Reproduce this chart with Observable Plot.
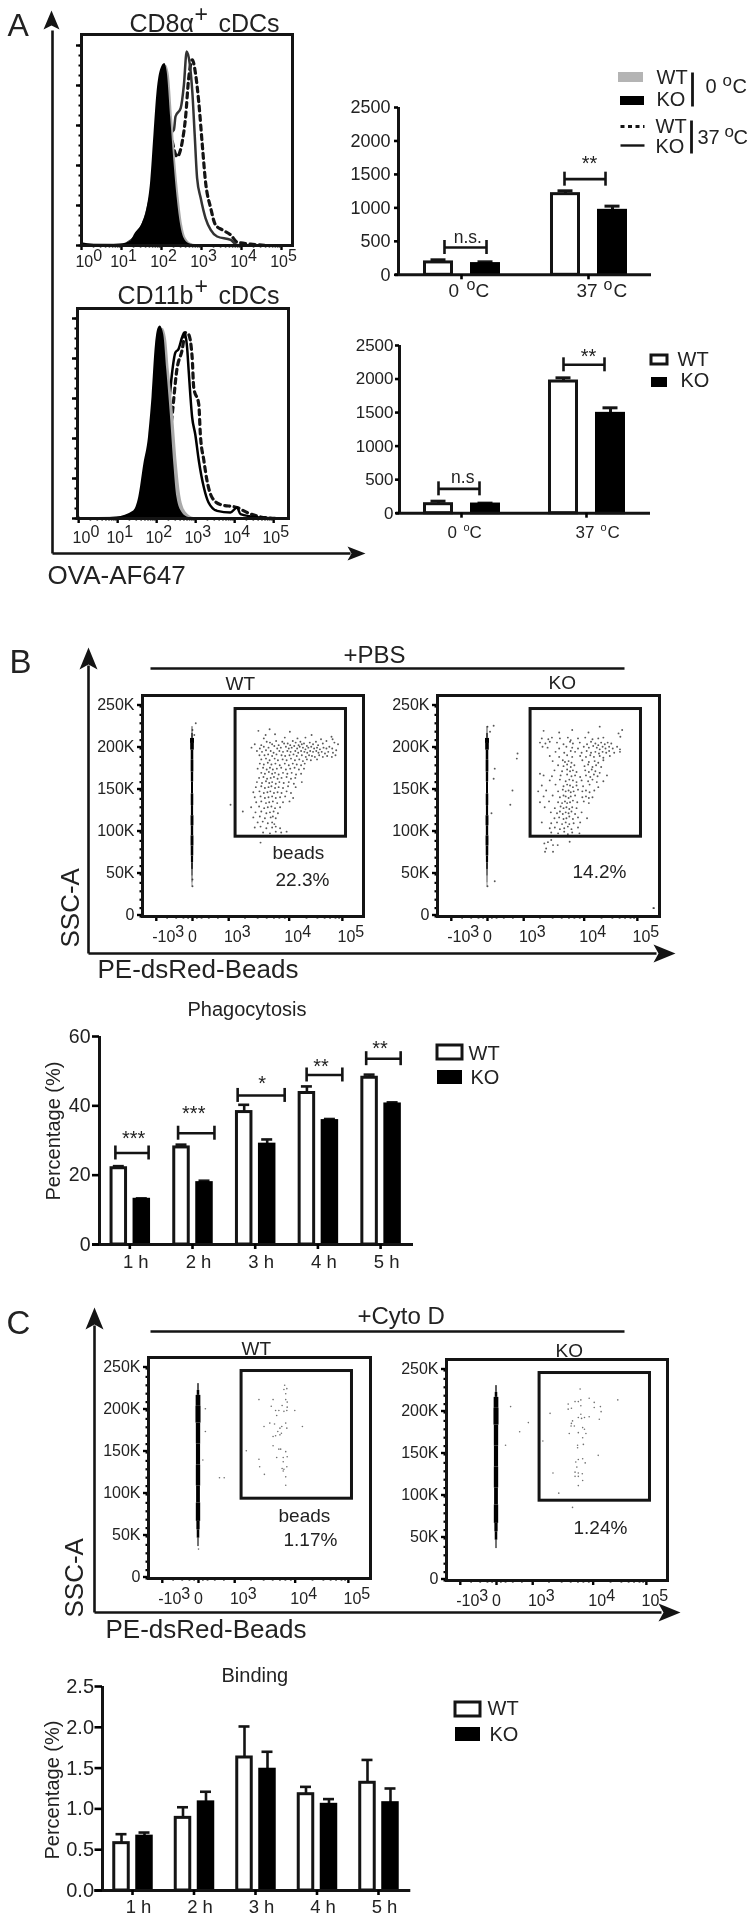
<!DOCTYPE html>
<html><head><meta charset="utf-8">
<script src="https://cdn.jsdelivr.net/npm/d3@7"></script>
<script src="https://cdn.jsdelivr.net/npm/@observablehq/plot@0.6"></script>
<style>
html,body{margin:0;padding:0;background:#fff}
#page{position:relative;width:755px;height:1920px;overflow:hidden;filter:blur(0.6px)}
#page svg{position:absolute;overflow:visible;max-width:none;background:transparent}
</style></head><body><div id="page"></div>
<script>
// ---------- Panel A histograms: [log10 fluorescence, % of max] ----------
const cd8Ko0 = [[0,5],[0.05,1.2],[0.48,0.3],[0.98,0.8],[1.23,2.3],[1.35,6.2],[1.52,11],[1.64,18.7],[1.73,32],[1.81,55],[1.89,77],[1.98,88],[2.08,91],[2.14,87],[2.23,64],[2.31,42],[2.39,24],[2.48,10],[2.56,3.7],[2.68,1],[2.89,0.2]];
const cd8Wt0 = [[0.05,1],[0.98,0.8],[1.23,2.3],[1.38,6],[1.56,11],[1.68,19],[1.77,33],[1.85,56],[1.93,78],[2.02,88],[2.12,90],[2.19,86],[2.28,63],[2.36,41],[2.44,24],[2.53,10],[2.62,3.5],[2.75,1],[2.95,0.2]];
const cd8Ko37 = [[1.14,1.2],[1.56,12],[1.89,38.7],[2.14,55],[2.31,57.8],[2.35,64.5],[2.48,68.7],[2.56,80.3],[2.63,97],[2.71,90.3],[2.77,77],[2.83,55.3],[2.89,33.7],[2.98,23.7],[3.1,13.7],[3.23,7.8],[3.39,4.5],[3.73,2.8],[3.89,0.3],[4.31,0]];
const cd8Wt37 = [[2.27,52],[2.39,44.5],[2.52,52],[2.6,63.7],[2.68,83.7],[2.77,92.8],[2.85,86],[2.93,72],[3.02,50.3],[3.1,32],[3.23,18.7],[3.35,10.3],[3.52,7.8],[3.73,5.3],[3.89,1.7],[4.23,0.7],[4.64,0]];
const cd11Ko0 = [[-0.02,7],[0.04,0.5],[0.64,0.5],[0.98,0.8],[1.41,3.8],[1.54,10.5],[1.67,27],[1.79,40.5],[1.88,60.5],[1.97,87],[2.03,94.7],[2.09,96.3],[2.18,92],[2.26,74],[2.35,52],[2.44,27],[2.52,10.5],[2.65,3],[2.82,0.5],[3.12,0]];
const cd11Wt0 = [[0.04,0.5],[0.98,0.8],[1.45,3.8],[1.6,10.5],[1.74,27],[1.86,40],[1.95,60],[2.04,86],[2.1,93],[2.16,95],[2.25,90],[2.33,73],[2.43,52],[2.53,27],[2.62,11],[2.76,3],[2.95,0.5],[3.2,0]];
const cd11Ko37 = [[2.0,22],[2.2,30],[2.31,55.5],[2.39,72],[2.48,83],[2.56,84.7],[2.65,90.5],[2.71,93],[2.78,85.5],[2.82,74],[2.91,50.5],[2.99,42],[3.08,29],[3.21,15.5],[3.33,8],[3.55,3.8],[3.89,3],[4.06,5.5],[4.15,2.2],[4.66,0.5],[5.09,0]];
const cd11Wt37 = [[2.2,25],[2.39,50.5],[2.52,74.7],[2.65,84],[2.74,93],[2.82,92],[2.91,80.5],[2.95,65.5],[3.08,57],[3.12,42],[3.21,29],[3.29,19],[3.42,10.5],[3.63,7],[4.06,5.5],[4.32,3],[4.66,0.8],[5.09,0]];
const histDecades = [0,1,2,3,4,5];

// ---------- Panel A bars ----------
const tempGroups = ["0 °C","37 °C"];
const cd8Wt = [185,1205], cd8WtTop = [224,1255], cd8KoV = [160,956], cd8KoTop = [194,1026];
const cd11Wt = [134,1963], cd11WtTop = [179,2018], cd11KoV = [129,1481], cd11KoTop = [150,1571];
const cd8Brackets = [{t:"n.s.",x1:-0.134,x2:0.197,y:408,tx:0.05,ty:553},{t:"**",x1:0.811,x2:1.134,y:1429,tx:1.008,ty:1734}];
const cd11Brackets = [{t:"n.s",x1:-0.184,x2:0.144,y:363,tx:0.01,ty:532},{t:"**",x1:0.816,x2:1.144,y:2212,tx:1.016,ty:2410}];

// ---------- Panel B / C time courses ----------
const hours = ["1 h","2 h","3 h","4 h","5 h"];
const phagoWt = [22,28,38.2,43.7,48.1], phagoWtTop = [22.6,28.8,40.3,45.6,49];
const phagoKo = [12.9,17.7,28.8,35.6,40.4], phagoKoTop = [13.3,18.4,30.3,36.2,41];
const phagoBrackets = [
 {t:"***",x1:-0.23,x2:0.30,y:26.4,tx:0.06,ty:31.9},{t:"***",x1:0.77,x2:1.35,y:32.1,tx:1.02,ty:39.1},
 {t:"*",x1:1.72,x2:2.47,y:43,tx:2.11,ty:48},{t:"**",x1:2.82,x2:3.39,y:48.9,tx:3.05,ty:52.9},
 {t:"**",x1:3.77,x2:4.32,y:53.6,tx:3.99,ty:58}];
const bindWt = [0.58,0.89,1.63,1.18,1.32], bindWtTop = [0.69,1.02,2.01,1.27,1.6];
const bindKo = [0.66,1.08,1.48,1.05,1.07], bindKoTop = [0.71,1.21,1.7,1.12,1.25];

// ---------- Flow plots: [biexponential position, SSC-A in K] ----------
const flowTicks = [-1,0,1,2.67,4.14];
const flowBase = ["-10","0","10","10","10"];
const flowExp = ["3","","3","4","5"];
const sscTicks = [0,50,100,150,200,250];
const pbsWtGate = [[2.13,223],[1.82,221],[2.69,220],[3.29,216],[3.84,214],[2.02,216],[2.28,217],[2.55,213],[1.97,212],[2.9,212],[3.55,211],[3.87,211],[3.12,213],[2.05,208],[2.14,207],[2.31,209],[2.48,208],[2.63,206],[2.77,209],[2.85,207],[2.98,208],[3.08,206],[3.24,207],[3.41,208],[3.7,209],[3.92,207],[1.72,205],[1.9,204],[2.2,205],[2.38,204],[2.53,206],[2.7,204],[2.93,204],[3.02,205],[3.16,203],[3.33,205],[3.47,204],[3.6,206],[4.02,205],[1.63,201],[1.86,200],[1.97,202],[2.1,201],[2.26,203],[2.34,200],[2.44,201],[2.58,202],[2.66,200],[2.74,201],[2.81,203],[2.89,200],[2.96,202],[3.05,201],[3.12,199],[3.2,201],[3.28,202],[3.36,200],[3.44,201],[3.52,199],[3.62,201],[3.7,200],[3.78,202],[3.86,200],[3.97,198],[1.78,197],[1.92,196],[2.03,198],[2.16,197],[2.24,195],[2.4,197],[2.5,196],[2.62,197],[2.71,196],[2.84,197],[2.92,195],[3.0,197],[3.09,196],[3.17,195],[3.25,197],[3.33,196],[3.42,197],[3.48,195],[3.57,196],[3.66,194],[3.75,196],[3.88,195],[1.85,192],[1.99,192],[2.09,193],[2.2,191],[2.32,193],[2.46,192],[2.56,191],[2.68,192],[2.79,193],[2.88,191],[3.02,192],[3.13,190],[3.22,192],[3.3,191],[3.38,190],[3.5,192],[3.6,190],[3.72,191],[3.85,190],[3.95,192],[1.9,187],[2.03,188],[2.13,186],[2.27,188],[2.36,186],[2.49,187],[2.6,186],[2.72,188],[2.83,186],[2.95,187],[3.05,185],[3.16,187],[3.27,186],[3.44,187],[1.86,182],[1.97,181],[2.08,183],[2.18,181],[2.29,182],[2.41,180],[2.55,182],[2.66,180],[2.77,182],[2.88,181],[3.0,180],[3.1,182],[1.8,176],[1.95,177],[2.05,175],[2.14,177],[2.22,175],[2.33,176],[2.45,177],[2.58,175],[2.7,176],[2.82,177],[2.94,175],[3.08,176],[1.9,171],[2.0,170],[2.11,172],[2.2,170],[2.28,171],[2.38,169],[2.5,171],[2.62,170],[2.74,171],[2.86,169],[3.0,170],[1.84,165],[1.96,166],[2.06,164],[2.16,165],[2.25,166],[2.35,164],[2.46,165],[2.6,166],[2.72,164],[2.84,165],[1.78,160],[1.92,159],[2.03,161],[2.12,159],[2.2,160],[2.3,158],[2.4,160],[2.52,159],[2.66,160],[2.8,158],[3.02,160],[1.75,154],[1.9,155],[2.0,153],[2.1,154],[2.18,155],[2.28,153],[2.38,154],[2.5,153],[2.64,155],[2.85,154],[1.68,148],[1.85,149],[1.97,147],[2.07,148],[2.15,149],[2.25,147],[2.35,148],[2.46,147],[2.6,149],[2.72,147],[1.72,142],[1.88,143],[2.0,141],[2.1,142],[2.2,143],[2.3,141],[2.42,142],[2.56,143],[2.78,141],[1.76,136],[1.9,137],[2.03,135],[2.12,136],[2.22,137],[2.34,135],[2.5,136],[2.68,137],[1.62,130],[1.84,131],[1.98,129],[2.08,130],[2.18,131],[2.28,129],[2.42,130],[1.74,124],[1.9,125],[2.04,123],[2.14,124],[2.24,125],[2.36,123],[1.68,118],[1.86,119],[2.0,117],[2.16,118],[2.22,119],[2.3,117],[1.8,112],[1.94,113],[2.08,111],[2.2,112],[2.26,110],[1.72,106],[1.88,107],[2.04,105],[2.2,106],[2.3,107],[2.42,105],[1.95,100],[2.14,99],[2.3,101],[2.45,100],[2.6,101]];
const pbsWtStray = [[1.05,133],[1.39,125],[0.09,230],[0,222],[0.05,216],[0,36],[0,44],[1.88,88]];
const pbsKoGate = [[1.55,221],[1.98,219],[2.34,222],[3.1,226],[2.79,219],[3.62,218],[3.72,222],[3.67,214],[1.5,212],[1.68,211],[1.78,213],[2.0,212],[2.22,213],[2.3,210],[2.5,212],[2.7,213],[2.9,211],[3.06,212],[3.2,213],[1.45,207],[1.6,206],[1.72,208],[1.92,207],[2.1,205],[2.28,208],[2.36,206],[2.55,207],[2.75,205],[2.86,208],[2.98,206],[3.06,204],[3.14,207],[3.24,205],[3.32,207],[3.42,206],[1.52,202],[1.66,201],[1.98,200],[2.18,202],[2.34,201],[2.5,200],[2.66,202],[2.8,201],[2.92,203],[3.02,201],[3.1,199],[3.18,202],[3.26,200],[3.36,202],[3.46,200],[3.58,202],[3.66,199],[1.88,196],[2.12,195],[2.3,197],[2.42,196],[2.6,195],[2.74,197],[2.86,195],[2.98,196],[3.08,194],[3.18,196],[3.28,195],[3.36,197],[3.5,195],[3.66,196],[1.72,191],[1.98,190],[2.2,192],[2.34,190],[2.56,191],[2.72,190],[2.84,192],[2.94,190],[3.1,191],[3.2,189],[3.38,191],[1.8,185],[2.08,186],[2.14,184],[2.24,185],[2.32,183],[2.62,186],[2.8,184],[2.96,185],[3.06,183],[3.2,186],[1.95,180],[2.1,179],[2.2,181],[2.3,178],[2.4,180],[2.68,179],[2.78,181],[2.9,178],[3.0,180],[3.14,178],[1.85,174],[2.06,173],[2.2,175],[2.28,173],[2.36,174],[2.46,172],[2.7,174],[2.8,172],[2.88,175],[2.98,173],[3.1,171],[1.45,170],[1.55,168],[1.78,167],[2.02,168],[2.2,169],[2.32,167],[2.42,168],[2.56,166],[2.72,168],[2.84,166],[2.94,169],[3.04,167],[3.3,168],[1.72,162],[2.0,163],[2.16,161],[2.26,163],[2.36,162],[2.46,160],[2.6,162],[2.78,161],[2.9,163],[3.02,160],[3.2,161],[1.5,156],[1.88,157],[2.1,155],[2.2,157],[2.28,156],[2.36,154],[2.46,156],[2.64,155],[2.82,157],[3.06,154],[1.4,149],[1.62,150],[1.95,149],[2.08,151],[2.16,149],[2.24,150],[2.3,148],[2.38,149],[2.5,151],[2.62,149],[2.72,150],[2.82,148],[2.95,150],[1.55,143],[1.8,144],[2.0,142],[2.1,144],[2.16,143],[2.24,141],[2.3,143],[2.42,144],[2.62,142],[2.72,143],[2.8,141],[2.9,142],[1.45,136],[1.7,137],[1.95,136],[2.06,135],[2.14,137],[2.2,135],[2.28,136],[2.36,138],[2.48,136],[2.66,137],[2.8,135],[1.58,130],[1.86,129],[2.02,131],[2.1,129],[2.18,130],[2.26,128],[2.34,130],[2.46,129],[1.75,124],[1.92,123],[2.0,125],[2.08,122],[2.16,124],[2.24,123],[2.32,125],[2.42,122],[2.6,124],[1.85,117],[1.98,118],[2.1,116],[2.18,117],[2.26,119],[2.36,116],[2.5,118],[2.75,117],[1.5,112],[1.76,111],[1.92,112],[2.06,110],[2.16,112],[2.26,110],[2.38,111],[2.56,112],[1.72,105],[1.86,106],[2.0,104],[2.12,105],[2.22,107],[2.32,104],[2.5,106],[1.76,100],[1.95,99],[2.12,101],[2.22,98],[2.34,100],[2.54,99]];
const pbsKoStray = [[0,226],[0.17,227],[0.07,220],[0,36],[0.2,42],[0.83,194],[0.81,188],[0.2,176],[0.17,164],[0.11,123],[0.69,150],[0.63,133],[1.57,87],[1.76,91],[1.62,81],[1.81,85],[1.59,77],[1.81,77],[2.27,89],[1.94,85],[1.67,88.5],[4.58,10],[4.6,10]];
const cytoWtGate = [[2.38,230],[2.44,226],[2.36,225],[2.41,220],[1.67,213],[2.06,213],[2.41,213],[2.45,210],[2.01,205],[2.31,206],[2.45,204],[2.13,200],[2.22,200],[2.44,200],[2.36,199],[2.66,200],[2.16,194],[1.97,185],[2.10,184],[2.41,185],[1.81,181],[2.44,179],[2.30,181],[2.87,181],[2.25,179],[2.19,175],[2.29,173],[2.13,170],[2.06,169],[2.25,171],[2.06,158],[2.22,154],[2.27,154],[2.41,151],[1.32,152],[2.45,145],[2.34,144],[2.16,144],[1.67,142],[2.34,139],[1.69,133],[2.44,133],[2.31,131],[2.36,130],[2.34,128],[1.82,124],[2.41,121],[2.41,111]];
const cytoWtStray = [[0.58,120],[0.71,120],[0.19,202],[0.19,175],[0.12,141],[0,35]];
const cytoKoGate = [[2.31,228],[2.56,217],[3.35,215],[2.33,215],[2.26,213],[2.17,213],[2.70,212],[1.98,210],[2.33,208],[2.87,207],[2.70,206],[2.07,205],[1.98,204],[2.89,201],[1.48,199],[2.33,198],[2.26,194],[2.35,193],[2.43,194],[2.56,195],[2.84,192],[2.10,190],[2.07,187],[2.15,184],[2.06,184],[2.38,182],[2.43,180],[2.26,176],[2.47,175],[2.01,175],[2.38,170],[1.28,166],[2.24,161],[2.40,162],[2.24,158],[2.81,149],[2.26,144],[2.38,145],[2.19,141],[2.45,140],[2.22,135],[2.17,129],[2.26,128],[2.37,127],[1.56,128],[2.17,124],[2.26,124],[2.38,119],[2.26,113],[1.72,104],[2.10,87]];
const cytoKoStray = [[0.39,207],[0.88,188],[0.64,177],[0.25,161]];
// strip of negative events: [SSC low, SSC high, full width]
const pbsStrip = [[35,40,0.012],[40,48,0.02],[48,56,0.03],[56,64,0.045],[64,72,0.06],[72,84,0.07],[84,96,0.08],[96,108,0.065],[108,120,0.08],[120,132,0.06],[132,146,0.07],[146,160,0.055],[160,172,0.065],[172,186,0.075],[186,198,0.07],[198,206,0.1],[206,212,0.11],[212,218,0.04],[218,226,0.02]];
const cytoStrip = [[38,48,0.03],[48,58,0.07],[58,68,0.09],[68,90,0.12],[90,110,0.105],[110,135,0.12],[135,160,0.115],[160,185,0.12],[185,205,0.14],[205,218,0.13],[218,224,0.07],[224,232,0.035]];

// ---------- shared style ----------
const INK = "#141414", TXT = "#222", FONT = "'Liberation Sans', Arial, sans-serif";
const page = document.getElementById("page");
function place(svg, x, y){ svg.style.left = x+"px"; svg.style.top = y+"px"; page.appendChild(svg); }
const blank = () => "";

// ---------- histogram ----------
function hist(o){
  const ML=30, MR=6, MT=6, MB=6, W=o.right-o.left, H=o.bottom-o.top;
  const minor = d3.range(0,5).flatMap(d=>[2,3,4,5,6,7,8,9].map(k=>d+Math.log10(k)));
  const X=d=>d[0], Y=d=>d[1];
  const svg = Plot.plot({
    width:ML+W+MR, height:MT+H+MB, marginLeft:ML, marginRight:MR, marginTop:MT, marginBottom:MB,
    style:{fontFamily:FONT,background:"transparent"},
    x:{domain:o.xDomain,axis:null}, y:{domain:[0,o.yMax],axis:null},
    marks:[
      Plot.line(o.wt37,{x:X,y:Y,stroke:INK,strokeWidth:3.2,strokeDasharray:"5 4.5",curve:"monotone-x"}),
      Plot.line(o.ko37,{x:X,y:Y,stroke:o.koStroke,strokeWidth:2.5,curve:"monotone-x"}),
      Plot.areaY(o.wt0,{x:X,y:Y,fill:"#a9a9a9",curve:"monotone-x"}),
      Plot.areaY(o.ko0,{x:X,y:Y,fill:"#000",curve:"monotone-x"}),
      Plot.axisY({ticks:d3.range(0,101,5),tickSize:2.5,tickFormat:blank,label:null,strokeWidth:2}),
      Plot.axisY({ticks:d3.range(0,101,20),tickSize:5,tickFormat:blank,label:null,strokeWidth:2.4}),
      Plot.axisX({ticks:minor,tickSize:2.5,tickFormat:blank,label:null,strokeWidth:1.6}),
      Plot.axisX({ticks:histDecades,tickSize:5,tickFormat:blank,label:null,strokeWidth:2.4}),
      Plot.frame({stroke:INK,strokeWidth:3}),
      Plot.text(histDecades,{x:d=>Math.max(d,0.13)-0.06,y:0,text:()=>"10",dy:o.labelDy,lineAnchor:"bottom",fontSize:16,fill:TXT}),
      Plot.text(histDecades,{x:d=>Math.max(d,0.13)-0.06,y:0,text:d=>String(d),dx:9,dy:o.labelDy-6,textAnchor:"start",lineAnchor:"bottom",fontSize:16,fill:TXT})
    ]
  });
  place(svg,o.left-ML,o.top-MT);
}
hist({left:81,right:292,top:34,bottom:245,xDomain:[0,5.275],yMax:105.5,labelDy:21,
      wt37:cd8Wt37,ko37:cd8Ko37,wt0:cd8Wt0,ko0:cd8Ko0,koStroke:"#333"});
hist({left:77,right:288,top:308,bottom:518,xDomain:[-0.03,5.38],yMax:105,labelDy:24,
      wt37:cd11Wt37,ko37:cd11Ko37,wt0:cd11Wt0,ko0:cd11Ko0,koStroke:"#000"});

// ---------- grouped bars ----------
function bars(o){
  const ML=70, MR=4, MT=10, MB=40, W=o.right-o.axisX, H=o.y0-o.yTop;
  const u = px => (px-o.tick0)/o.step;
  const off = px => px/o.step;
  const rows = o.groups.flatMap((g,i)=>[
    {i,c:i+off(o.wtOff),v:o.wt[i],top:o.wtTop[i],w:true},
    {i,c:i+off(o.koOff),v:o.ko[i],top:o.koTop[i],w:false}]);
  const hw = off((o.barW-3)/2), cap = off(o.capW/2), pxY = o.yMax/H;
  const marks = [
    Plot.ruleX(rows,{x:"c",y1:"v",y2:"top",stroke:INK,strokeWidth:o.errW}),
    Plot.ruleY(rows,{y:"top",x1:d=>d.c-cap,x2:d=>d.c+cap,stroke:INK,strokeWidth:o.errW}),
    Plot.rectY(rows.filter(d=>d.w),{x1:d=>d.c-hw,x2:d=>d.c+hw,y1:0,y2:"v",fill:"#fff",stroke:INK,strokeWidth:3}),
    Plot.rectY(rows.filter(d=>!d.w),{x1:d=>d.c-hw,x2:d=>d.c+hw,y1:0,y2:"v",fill:"#000",stroke:"#000",strokeWidth:3}),
    Plot.ruleX([u(o.axisX)],{y1:0,y2:o.yMax,stroke:INK,strokeWidth:3}),
    Plot.ruleY([0],{x1:u(o.xStart),x2:u(o.right),stroke:INK,strokeWidth:3}),
    Plot.axisY({ticks:o.yTicks,tickSize:o.tick,tickPadding:o.pad,tickFormat:o.fmt,label:null,strokeWidth:2.6,fill:TXT}),
    Plot.axisX({ticks:o.groups.map((g,i)=>i),tickSize:5,tickFormat:blank,label:null,strokeWidth:2.6})
  ];
  if (o.labels) marks.push(Plot.text(o.groups,{x:(d,i)=>i,y:0,text:d=>d,dx:6,dy:23,lineAnchor:"bottom",fontSize:18.5,fill:TXT}));
  if (o.brackets) marks.push(
    Plot.ruleY(o.brackets,{y:"y",x1:"x1",x2:"x2",stroke:INK,strokeWidth:2.6}),
    Plot.ruleX(o.brackets,{x:"x1",y1:d=>d.y-7*pxY,y2:d=>d.y+7*pxY,stroke:INK,strokeWidth:2.6}),
    Plot.ruleX(o.brackets,{x:"x2",y1:d=>d.y-7*pxY,y2:d=>d.y+7*pxY,stroke:INK,strokeWidth:2.6}),
    Plot.text(o.brackets.filter(d=>d.t[0]==="*"),{x:"tx",y:"ty",text:"t",fontSize:20,dy:5,fill:TXT}),
    Plot.text(o.brackets.filter(d=>d.t[0]!=="*"),{x:"tx",y:"ty",text:"t",fontSize:17.5,fill:TXT})
  );
  const svg = Plot.plot({
    width:ML+W+MR, height:MT+H+MB, marginLeft:ML, marginRight:MR, marginTop:MT, marginBottom:MB,
    style:{fontFamily:FONT,fontSize:o.font+"px",background:"transparent"},
    x:{domain:[u(o.axisX),u(o.right+0)],range:[ML,ML+W],axis:null},
    y:{domain:[0,o.yMax],axis:null},
    marks
  });
  place(svg,o.axisX-ML,o.yTop-MT);
}
const fmtInt = d=>String(d), fmt1 = d=>d.toFixed(1);
const yk = d3.range(0,2501,500);
bars({axisX:398,xStart:395,right:651,y0:274,yTop:106.7,yMax:2500,yTicks:yk,fmt:fmtInt,tick:4,pad:4,font:18,
  tick0:461,step:127,wtOff:-23,koOff:24,barW:30,capW:15,errW:3,groups:tempGroups,
  wt:cd8Wt,wtTop:cd8WtTop,ko:cd8KoV,koTop:cd8KoTop,brackets:cd8Brackets});
bars({axisX:399,xStart:396,right:650,y0:512.7,yTop:345,yMax:2500,yTicks:yk,fmt:fmtInt,tick:4,pad:2,font:17,
  tick0:461,step:125,wtOff:-23,koOff:24,barW:30,capW:15,errW:3,groups:tempGroups,
  wt:cd11Wt,wtTop:cd11WtTop,ko:cd11KoV,koTop:cd11KoTop,brackets:cd11Brackets});
bars({axisX:99,xStart:92,right:413,y0:1244,yTop:1036,yMax:60,yTicks:[0,20,40,60],fmt:fmtInt,tick:7,pad:2,font:19.5,
  tick0:129.3,step:62.7,wtOff:-11,koOff:12,barW:17.5,capW:11,errW:2.6,groups:hours,labels:true,
  wt:phagoWt,wtTop:phagoWtTop,ko:phagoKo,koTop:phagoKoTop,brackets:phagoBrackets});
bars({axisX:101.7,xStart:94,right:410,y0:1890,yTop:1686,yMax:2.5,yTicks:[0,0.5,1,1.5,2,2.5],fmt:fmt1,tick:7.5,pad:1,font:20,
  tick0:131.7,step:61.5,wtOff:-11,koOff:12,barW:17.5,capW:11,errW:2.6,groups:hours,labels:true,
  wt:bindWt,wtTop:bindWtTop,ko:bindKo,koTop:bindKoTop});

// ---------- flow dot plots ----------
function flow(o){
  const ML=50, MR=6, MT=6, MB=32, U=36.2, K=0.84, W=o.right-o.left, H=o.bottom-o.top;
  const X=d=>d[0], Y=d=>d[1];
  const ends=[19,4.5,13,13,13];
  const xMinor=[-0.7,-0.45,-0.25,-0.12,0.12,0.25,0.45,0.7,1.45,1.8,2.05,2.25,2.4,2.55,3.15,3.45,3.65,3.8,3.95,4.05];
  const svg = Plot.plot({
    width:ML+W+MR, height:MT+H+MB, marginLeft:ML, marginRight:MR, marginTop:MT, marginBottom:MB,
    style:{fontFamily:FONT,fontSize:"16px",background:"transparent"},
    x:{domain:[(o.left-o.zero)/U,(o.right-o.zero)/U],axis:null},
    y:{domain:[0,H/K],axis:null},
    marks:[
      Plot.rect(o.strip,{x1:d=>-d[2]/2,x2:d=>d[2]/2,y1:X,y2:Y,fill:"#000"}),
      Plot.dot(o.gateDots.concat(o.stray),{x:X,y:Y,r:o.r,fill:"#111",fillOpacity:o.op,stroke:"none"}),
      Plot.rect([[1.19,4.24,95,247]],{x1:d=>d[0],x2:d=>d[1],y1:d=>d[2],y2:d=>d[3],fill:"none",stroke:INK,strokeWidth:3}),
      Plot.axisY({ticks:d3.range(0,251,10),tickSize:2.5,tickFormat:blank,label:null,strokeWidth:2.2}),
      Plot.axisY({ticks:sscTicks,tickSize:5,tickPadding:3,tickFormat:d=>d?d+"K":"0",label:null,strokeWidth:2.4,fill:TXT,dy:-1.5}),
      Plot.axisX({ticks:xMinor,tickSize:2.5,tickFormat:blank,label:null,strokeWidth:1.8}),
      Plot.axisX({ticks:flowTicks,tickSize:5,tickFormat:blank,label:null,strokeWidth:2.4}),
      Plot.frame({stroke:INK,strokeWidth:3}),
      ...flowTicks.flatMap((t,i)=>[
        Plot.text([t],{x:d=>d,y:0,text:()=>flowBase[i],dx:ends[i],dy:25,textAnchor:"end",lineAnchor:"bottom",fontSize:16,fill:TXT}),
        Plot.text([t],{x:d=>d,y:0,text:()=>flowExp[i],dx:ends[i],dy:20,textAnchor:"start",lineAnchor:"bottom",fontSize:16,fill:TXT})
      ])
    ]
  });
  place(svg,o.left-ML,o.top-MT);
}
flow({left:142,right:363,top:695,bottom:916,zero:192,strip:pbsStrip,gateDots:pbsWtGate,stray:pbsWtStray,r:0.95,op:0.7});
flow({left:437,right:659,top:695,bottom:916,zero:487,strip:pbsStrip,gateDots:pbsKoGate,stray:pbsKoStray,r:0.95,op:0.7});
flow({left:148,right:370,top:1357,bottom:1578,zero:198,strip:cytoStrip,gateDots:cytoWtGate,stray:cytoWtStray,r:0.8,op:0.6});
flow({left:446,right:667,top:1359,bottom:1580,zero:496,strip:cytoStrip,gateDots:cytoKoGate,stray:cytoKoStray,r:0.8,op:0.6});

// ---------- page-level annotation layer ----------
const S=(t,x,y,s,r=0)=>({t,x,y,s,r});
const pageText=[
  S("A",7,35,32),S("B",9,672,33),S("C",6,1333,33),
  S("CD8α",129,31,25),S("+",194,21,23),S("cDCs",218,31,25),
  S("CD11b",117,303,25),S("+",194,293,23),S("cDCs",218,303,25),
  S("OVA-AF647",47,583,26),
  S("WT",656,83,20),S("KO",656,105,20),S("0",705,92,20),S("o",722,85,17),S("C",732,92,20),
  S("WT",655,132,20),S("KO",655,152,20),S("37",697,143,20),S("o",724,136,17),S("C",733,143,20),
  S("0",448,296,19),S("o",466,289,16),S("C",475,296,19),S("37",576,296,19),S("o",603,289,16),S("C",613,296,19),
  S("0",447,537,17),S("o",463,530,11),S("C",469,537,17),S("37",575,537,17),S("o",600,530,11),S("C",607,537,17),
  S("WT",677,365,20),S("KO",680,386,20),
  S("+PBS",343,662,24),S("WT",225,689,19),S("KO",548,688,19),
  S("beads",272,858,19),S("22.3%",275,885,19),S("14.2%",572,877,19),
  S("SSC-A",78,947,26,-90),S("PE-dsRed-Beads",97,977,26),
  S("Phagocytosis",187,1015,20),S("Percentage (%)",59,1200,20,-90),
  S("WT",468,1059,20),S("KO",470,1083,20),
  S("+Cyto D",357,1323,24),S("WT",241,1354,19),S("KO",555,1356,19),
  S("beads",278,1521,19),S("1.17%",283,1545,19),S("1.24%",573,1533,19),
  S("SSC-A",82,1617,26,-90),S("PE-dsRed-Beads",105,1637,26),
  S("Binding",221,1681,20),S("Percentage (%)",58,1859,20,-90),
  S("WT",487,1714,20),S("KO",489,1740,20)
];
const L=(x1,y1,x2,y2,w=2.6)=>({x1,y1,x2,y2,w});
const pageLines=[
  L(52,30,52,553),L(52,553,350,553),L(692,72,692,106,2.8),L(691,120,691,153,2.8),
  L(88,665,88,953),L(88,953,656,953),L(150,668,624,668),
  L(94,1325,94,1612),L(94,1612,661,1612),L(150,1331,624,1331),
  L(620,145,644,145,2.4)
];
const heads=[
  [[51,10],[59,29],[51,25],[43,29]],
  [[365,553],[347,560],[351,553],[347,546]],
  [[88,647],[97,669],[88,664],[79,669]],
  [[675,953],[653,962],[658,953],[653,944]],
  [[94,1307],[103,1329],[94,1324],[85,1329]],
  [[680,1612],[658,1621],[663,1612],[658,1603]]
].flatMap((h,id)=>h.map(p=>({id,x:p[0],y:p[1]})));
const outlined=[[651,667,355,364],[437,462,1045,1059],[455,480,1702,1716]];
const solid=[[620,644,96,105],[651,667,377,387],[437,462,1070,1084],[455,480,1727,1741]];
const XR={x1:d=>d[0],x2:d=>d[1],y1:d=>d[2],y2:d=>d[3]};
place(Plot.plot({
  width:755,height:1920,margin:0,
  style:{fontFamily:FONT,background:"transparent"},
  x:{type:"identity",axis:null},y:{type:"identity",axis:null},
  marks:[
    Plot.link(pageLines,{x1:"x1",y1:"y1",x2:"x2",y2:"y2",strokeWidth:"w",stroke:INK}),
    Plot.line(heads,{x:"x",y:"y",z:"id",fill:INK,stroke:"none",curve:"linear-closed"}),
    Plot.link([[620,126,644,126]],{x1:d=>d[0],y1:d=>d[1],x2:d=>d[2],y2:d=>d[3],stroke:INK,strokeWidth:3,strokeDasharray:"4 3.5"}),
    Plot.rect([[618,643,72,82]],{...XR,fill:"#b4b4b4"}),
    Plot.rect(solid,{...XR,fill:"#000"}),
    Plot.rect(outlined,{...XR,fill:"#fff",stroke:INK,strokeWidth:3}),
    Plot.text(pageText,{x:"x",y:"y",text:"t",fontSize:"s",rotate:"r",textAnchor:"start",lineAnchor:"bottom",fill:TXT})
  ]
}),0,0);
</script></body></html>
